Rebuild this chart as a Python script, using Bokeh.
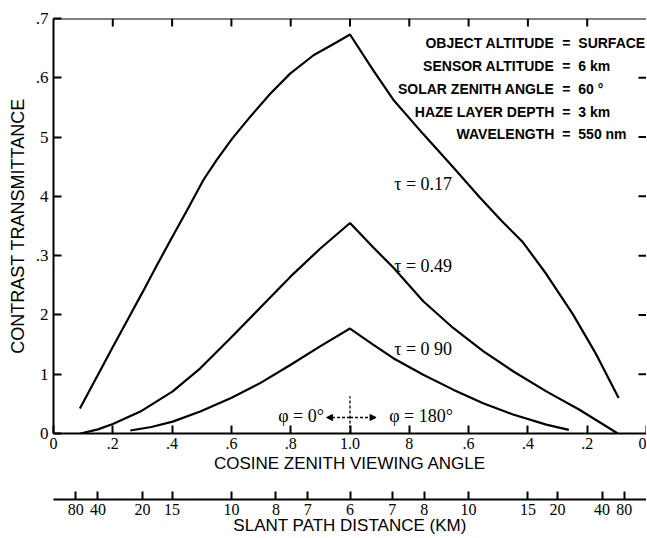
import math
from bokeh.plotting import figure
from bokeh.layouts import column
from bokeh.models import FixedTicker, Range1d, Arrow, NormalHead, Span
from bokeh.embed import file_html
from bokeh.resources import INLINE
from bokeh.core.properties import value

# ---------------- data ----------------
y_ticks = [0.0, 0.1, 0.2, 0.3, 0.4, 0.5, 0.6, 0.7]
y_tick_labels = ["0", "1", "2", ".3", "4", "5", ".6", ".7"]

cos_ticks_phi0 = [0.0, 0.2, 0.4, 0.6, 0.8, 1.0]
cos_labels_phi0 = ["0", ".2", ".4", ".6", ".8", "1.0"]
cos_ticks_phi180 = [0.8, 0.6, 0.4, 0.2, 0.0]
cos_labels_phi180 = ["8", ".6", ".4", ".2", "0"]

sensor_altitude_km = 6.0
slant_km = [80, 40, 20, 15, 10, 8, 7, 6]

tau_labels = ["\u03c4 = 0.17", "\u03c4 = 0.49", "\u03c4 = 0 90"]
phi_labels = ["\u03c6 = 0\u00b0", "\u03c6 = 180\u00b0"]

param_names = ["OBJECT ALTITUDE", "SENSOR ALTITUDE", "SOLAR ZENITH ANGLE",
               "HAZE LAYER DEPTH", "WAVELENGTH"]
param_values = ["SURFACE", "6 km", "60 \u00b0", "3 km", "550 nm"]

# tau = 0.17
t017_phi0_cos = [0.089, 0.15, 0.2, 0.25, 0.3, 0.35, 0.4, 0.45, 0.506, 0.55, 0.602,
                 0.663, 0.731, 0.798, 0.877, 0.955, 1.0]
t017_phi0_ct = [0.042, 0.099, 0.146, 0.192, 0.238, 0.285, 0.331, 0.376, 0.428, 0.461,
                0.497, 0.534, 0.573, 0.607, 0.638, 0.660, 0.673]
t017_phi180_cos = [1.0, 0.922, 0.854, 0.753, 0.652, 0.562, 0.489, 0.416, 0.338,
                   0.248, 0.169, 0.094]
t017_phi180_ct = [0.673, 0.613, 0.563, 0.505, 0.449, 0.398, 0.359, 0.322, 0.269,
                  0.201, 0.133, 0.060]

# tau = 0.49
t049_phi0_cos = [0.091, 0.15, 0.2, 0.293, 0.402, 0.495, 0.599, 0.697, 0.8, 0.9, 1.0]
t049_phi0_ct = [0.0, 0.007, 0.016, 0.037, 0.071, 0.110, 0.162, 0.212, 0.265, 0.312, 0.355]
t049_phi180_cos = [1.0, 0.922, 0.854, 0.753, 0.652, 0.551, 0.450, 0.338, 0.226, 0.097]
t049_phi180_ct = [0.355, 0.314, 0.280, 0.223, 0.178, 0.139, 0.105, 0.071, 0.040, 0.0]

# tau = 0.90
t090_phi0_cos = [0.259, 0.33, 0.402, 0.495, 0.599, 0.697, 0.8, 0.899, 1.0]
t090_phi0_ct = [0.005, 0.011, 0.020, 0.037, 0.060, 0.085, 0.116, 0.147, 0.177]
t090_phi180_cos = [1.0, 0.922, 0.854, 0.753, 0.652, 0.551, 0.450, 0.338, 0.262]
t090_phi180_ct = [0.177, 0.150, 0.127, 0.099, 0.074, 0.051, 0.032, 0.015, 0.006]

curves = [
    (t017_phi0_cos, t017_phi0_ct, t017_phi180_cos, t017_phi180_ct),
    (t049_phi0_cos, t049_phi0_ct, t049_phi180_cos, t049_phi180_ct),
    (t090_phi0_cos, t090_phi0_ct, t090_phi180_cos, t090_phi180_ct),
]

X_MIN, X_MAX = 0.0, 2.0
Y_MIN, Y_MAX = 0.0, 0.7


# folded axis: phi = 0 side runs 0 -> 1, phi = 180 side runs 1 -> 2
def fold0(c):
    return round(c, 6)


def fold180(c):
    return round(2.0 - c, 6)


SERIF = "Liberation Serif"
SANS = "Liberation Sans"
W = 646

p = figure(width=W, height=475, x_range=Range1d(X_MIN, X_MAX), y_range=Range1d(Y_MIN, Y_MAX),
           output_backend="svg", toolbar_location=None,
           min_border_left=53, min_border_right=0, min_border_top=18, min_border_bottom=0)
p.outline_line_color = None
p.grid.visible = False
p.background_fill_color = "white"
p.border_fill_color = "white"

# curves
for c0, v0, c1, v1 in curves:
    xs = [fold0(c) for c in c0] + [fold180(c) for c in c1[1:]]
    ys = list(v0) + list(v1[1:])
    p.line(xs, ys, line_color="black", line_width=2.2)


def style_axis(ax, ticks, overrides, size):
    ax.ticker = FixedTicker(ticks=ticks)
    ax.major_label_overrides = overrides
    ax.major_tick_in = 8
    ax.major_tick_out = 0
    ax.minor_tick_line_color = None
    ax.axis_line_width = 2
    ax.axis_line_color = "black"
    ax.major_tick_line_width = 2
    ax.major_tick_line_color = "black"
    ax.major_label_text_font = SERIF
    ax.major_label_text_font_size = size
    ax.major_label_text_color = "black"
    ax.axis_label_text_font_style = "normal"
    ax.axis_label_text_color = "black"
    ax.axis_label_text_font = SANS


# y axis
y_over = {t: l for t, l in zip(y_ticks, y_tick_labels)}
ya = p.yaxis[0]
style_axis(ya, y_ticks, y_over, "17px")
ya.major_label_standoff = 5
ya.axis_label = "CONTRAST TRANSMITTANCE"
ya.axis_label_text_font_size = "18px"
ya.axis_label_standoff = 5

# cosine axis
x_ticks = [fold0(c) for c in cos_ticks_phi0] + [fold180(c) for c in cos_ticks_phi180]
x_labels = cos_labels_phi0 + cos_labels_phi180
x_over = {t: l for t, l in zip(x_ticks, x_labels)}
xa = p.xaxis[0]
style_axis(xa, x_ticks, x_over, "16px")
xa.major_label_standoff = 4
xa.axis_label = "COSINE ZENITH VIEWING ANGLE"
xa.axis_label_text_font_size = "17px"
xa.axis_label_standoff = 2

# top frame line and inward ticks on top / right
p.add_layout(Span(location=Y_MAX, dimension="width", line_color="black", line_width=2))
top_x = [t for t in x_ticks if X_MIN < t < X_MAX]
p.ray(x=top_x, y=[Y_MAX] * len(top_x), length=8, length_units="screen",
      angle=-math.pi / 2, line_color="black", line_width=2)
right_y = [t for t in y_ticks if Y_MIN < t < Y_MAX]
p.ray(x=[X_MAX] * len(right_y), y=right_y, length=8, length_units="screen",
      angle=math.pi, line_color="black", line_width=2)

# curve labels
p.text(x=[1.149, 1.149, 1.149], y=[0.421, 0.282, 0.142], text=tau_labels,
       text_font=value(SERIF), text_font_size="18px", text_color="black",
       text_align="left", text_baseline="middle")

# phi labels and arrows
p.text(x=[0.912], y=[0.029], text=[phi_labels[0]], text_font=value(SERIF),
       text_font_size="18px", text_color="black", text_align="right", text_baseline="middle")
p.text(x=[1.132], y=[0.029], text=[phi_labels[1]], text_font=value(SERIF),
       text_font_size="18px", text_color="black", text_align="left", text_baseline="middle")
p.add_layout(Arrow(x_start=1.0, y_start=0.027, x_end=0.921, y_end=0.027,
                   end=NormalHead(size=6, fill_color="black", line_color="black"),
                   line_dash="3 2", line_width=1.3, line_color="black"))
p.add_layout(Arrow(x_start=1.0, y_start=0.027, x_end=1.088, y_end=0.027,
                   end=NormalHead(size=6, fill_color="black", line_color="black"),
                   line_dash="3 2", line_width=1.3, line_color="black"))
p.segment(x0=[1.0], y0=[0.0], x1=[1.0], y1=[0.063], line_dash="3 2",
          line_width=1.3, line_color="black")

# parameter block
py = [0.658, 0.620, 0.581, 0.543, 0.505]
p.text(x=[1.689] * 5, y=py, text=param_names, text_font=value(SANS),
       text_font_size="14px", text_font_style="bold", text_color="black",
       text_align="right", text_baseline="middle")
p.text(x=[1.730] * 5, y=py, text=["="] * 5, text_font=value(SANS),
       text_font_size="14px", text_font_style="bold", text_color="black",
       text_align="center", text_baseline="middle")
p.text(x=[1.770] * 5, y=py, text=param_values, text_font=value(SANS),
       text_font_size="14px", text_font_style="bold", text_color="black",
       text_align="left", text_baseline="middle")

# ---- second scale: slant path distance ----
s_ticks, s_labels = [], []
for d in slant_km:
    s_ticks.append(fold0(sensor_altitude_km / d))
    s_labels.append(str(d))
for d in slant_km[::-1][1:]:
    s_ticks.append(fold180(sensor_altitude_km / d))
    s_labels.append(str(d))
s_over = {t: l for t, l in zip(s_ticks, s_labels)}

p2 = figure(width=W, height=62, x_range=p.x_range, y_range=Range1d(0, 1),
            output_backend="svg", toolbar_location=None, y_axis_location=None,
            min_border_left=53, min_border_right=0, min_border_top=0, min_border_bottom=0)
p2.outline_line_color = None
p2.grid.visible = False
p2.background_fill_color = "white"
p2.border_fill_color = "white"
sa = p2.xaxis[0]
style_axis(sa, s_ticks, s_over, "16px")
sa.major_label_standoff = 4
sa.axis_label = "SLANT PATH DISTANCE (KM)"
sa.axis_label_text_font_size = "17px"
sa.axis_label_standoff = -2

layout = column(p, p2, spacing=0)
open("out.html", "w").write(file_html(layout, INLINE))
